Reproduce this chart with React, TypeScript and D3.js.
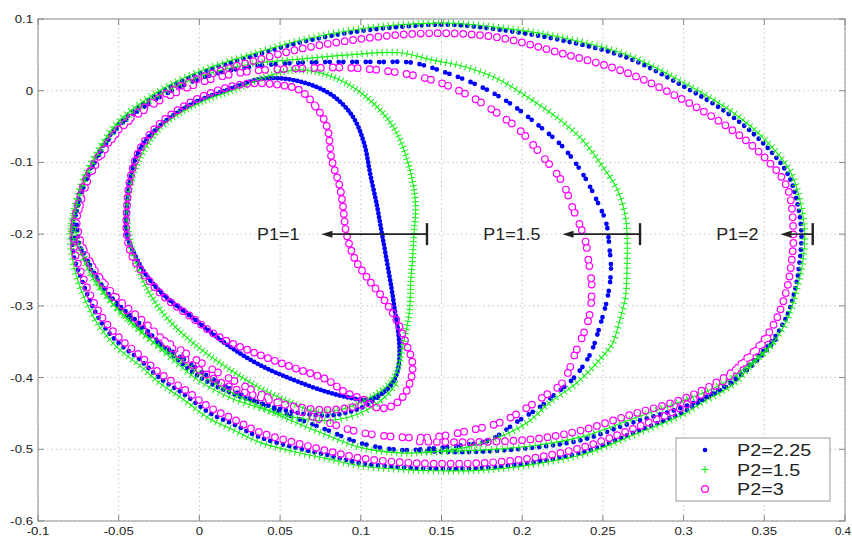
import React from 'react';
import * as d3 from 'd3';

type Pt = [number, number];

const W = 852, H = 537;
const X0 = 38, X1 = 845, Y0 = 19, Y1 = 521;

const xTicks = [-0.1, -0.05, 0, 0.05, 0.1, 0.15, 0.2, 0.25, 0.3, 0.35, 0.4];
const xTickLabels = ['-0.1', '-0.05', '0', '0.05', '0.1', '0.15', '0.2', '0.25', '0.3', '0.35', '0.4'];
const yTicks = [0.1, 0, -0.1, -0.2, -0.3, -0.4, -0.5, -0.6];
const yTickLabels = ['0.1', '0', '-0.1', '-0.2', '-0.3', '-0.4', '-0.5', '-0.6'];

const seriesNames = ['P2=2.25', 'P2=1.5', 'P2=3'];
const seriesColors = ['#0000ff', '#11ee11', '#ff00ff'];

// annotations: label, bar x, arrow tip x, y
const annLabels = ['P1=1', 'P1=1.5', 'P1=2'];
const annBarX = [0.141, 0.273, 0.380];
const annTipX = [0.0756, 0.225, 0.360];
const annY = -0.2;

// ---------- P2 = 2.25 (blue) ----------
const blueP1_2: Pt[] = [[-0.079,-0.198],[-0.076,-0.159],[-0.071,-0.124],[-0.062,-0.085],[-0.050,-0.047],[-0.034,-0.017],[-0.016,0.008],[0.006,0.029],[0.031,0.047],[0.062,0.067],[0.093,0.081],[0.124,0.089],[0.155,0.092],[0.186,0.085],[0.223,0.071],[0.265,0.046],[0.300,0.006],[0.327,-0.031],[0.347,-0.068],[0.364,-0.114],[0.370,-0.152],[0.373,-0.198],[0.372,-0.236],[0.369,-0.278],[0.363,-0.319],[0.353,-0.354],[0.341,-0.382],[0.331,-0.406],[0.310,-0.434],[0.300,-0.448],[0.269,-0.477],[0.238,-0.504],[0.207,-0.518],[0.176,-0.526],[0.145,-0.527],[0.124,-0.525],[0.099,-0.519],[0.079,-0.508],[0.058,-0.497],[0.037,-0.483],[0.022,-0.466],[0.006,-0.449],[-0.009,-0.424],[-0.025,-0.400],[-0.037,-0.375],[-0.050,-0.352],[-0.060,-0.326],[-0.068,-0.292],[-0.074,-0.257],[-0.078,-0.229]];
const blueP1_15: Pt[] = [[-0.078,-0.201],[-0.075,-0.159],[-0.070,-0.124],[-0.061,-0.085],[-0.050,-0.050],[-0.034,-0.022],[-0.016,0.001],[0.006,0.021],[0.031,0.033],[0.062,0.039],[0.087,0.040],[0.110,0.040],[0.132,0.039],[0.153,0.025],[0.174,0.006],[0.192,-0.017],[0.211,-0.050],[0.225,-0.078],[0.237,-0.114],[0.246,-0.152],[0.252,-0.184],[0.254,-0.218],[0.255,-0.250],[0.253,-0.287],[0.248,-0.329],[0.242,-0.368],[0.231,-0.403],[0.220,-0.424],[0.211,-0.441],[0.196,-0.463],[0.180,-0.487],[0.161,-0.495],[0.143,-0.499],[0.124,-0.501],[0.099,-0.491],[0.079,-0.473],[0.056,-0.453],[0.029,-0.427],[0.006,-0.399],[-0.012,-0.371],[-0.028,-0.347],[-0.039,-0.326],[-0.053,-0.294],[-0.064,-0.259],[-0.071,-0.229]];
const blueP1_1: Pt[] = [[-0.045,-0.166],[-0.045,-0.201],[-0.040,-0.229],[-0.033,-0.257],[-0.022,-0.285],[-0.004,-0.317],[0.017,-0.354],[0.037,-0.382],[0.058,-0.403],[0.079,-0.420],[0.093,-0.428],[0.104,-0.431],[0.114,-0.421],[0.120,-0.406],[0.123,-0.389],[0.124,-0.361],[0.123,-0.333],[0.121,-0.305],[0.119,-0.275],[0.116,-0.236],[0.113,-0.198],[0.110,-0.160],[0.106,-0.118],[0.102,-0.073],[0.095,-0.036],[0.082,-0.006],[0.062,0.013],[0.040,0.017],[0.017,0.001],[-0.006,-0.020],[-0.025,-0.050],[-0.037,-0.082],[-0.043,-0.124]];
const blueTransient: Pt[] = [[-0.076,-0.187],[-0.074,-0.218],[-0.066,-0.254],[-0.053,-0.292],[-0.035,-0.329],[-0.019,-0.364],[0.000,-0.399],[0.019,-0.421],[0.037,-0.435],[0.058,-0.448],[0.079,-0.453],[0.093,-0.448],[0.104,-0.438],[0.116,-0.417],[0.122,-0.399]];
const blueBottom2: Pt[] = [[0.357,-0.347],[0.341,-0.386],[0.322,-0.417],[0.300,-0.441],[0.268,-0.463],[0.237,-0.487],[0.206,-0.498],[0.165,-0.504],[0.136,-0.502]];

// ---------- P2 = 1.5 (green) ----------
const greenP1_2: Pt[] = [[-0.080,-0.198],[-0.077,-0.159],[-0.072,-0.124],[-0.063,-0.084],[-0.051,-0.045],[-0.035,-0.015],[-0.016,0.011],[0.006,0.032],[0.031,0.050],[0.062,0.070],[0.093,0.084],[0.124,0.092],[0.155,0.094],[0.186,0.088],[0.223,0.075],[0.265,0.050],[0.301,0.010],[0.329,-0.028],[0.349,-0.065],[0.366,-0.112],[0.372,-0.152],[0.375,-0.198],[0.374,-0.236],[0.370,-0.278],[0.364,-0.320],[0.354,-0.356],[0.341,-0.385],[0.331,-0.409],[0.310,-0.437],[0.300,-0.451],[0.269,-0.480],[0.238,-0.507],[0.207,-0.521],[0.176,-0.529],[0.145,-0.530],[0.124,-0.528],[0.099,-0.523],[0.079,-0.513],[0.058,-0.503],[0.037,-0.490],[0.022,-0.474],[0.006,-0.457],[-0.009,-0.432],[-0.025,-0.407],[-0.037,-0.383],[-0.050,-0.360],[-0.061,-0.332],[-0.070,-0.296],[-0.076,-0.260],[-0.079,-0.230]];
const greenP1_15: Pt[] = [[-0.079,-0.201],[-0.076,-0.159],[-0.071,-0.124],[-0.062,-0.085],[-0.051,-0.050],[-0.035,-0.020],[-0.016,0.004],[0.006,0.024],[0.031,0.037],[0.062,0.044],[0.093,0.050],[0.124,0.053],[0.144,0.043],[0.165,0.033],[0.186,0.015],[0.206,-0.013],[0.223,-0.040],[0.237,-0.068],[0.248,-0.100],[0.259,-0.138],[0.264,-0.176],[0.265,-0.204],[0.265,-0.240],[0.264,-0.287],[0.260,-0.324],[0.256,-0.352],[0.248,-0.375],[0.234,-0.407],[0.217,-0.435],[0.203,-0.463],[0.186,-0.483],[0.166,-0.497],[0.143,-0.504],[0.124,-0.505],[0.099,-0.497],[0.079,-0.480],[0.056,-0.459],[0.029,-0.431],[0.006,-0.403],[-0.012,-0.375],[-0.028,-0.352],[-0.039,-0.331],[-0.053,-0.299],[-0.064,-0.264],[-0.071,-0.233]];
const greenP1_1: Pt[] = [[-0.045,-0.173],[-0.042,-0.124],[-0.034,-0.082],[-0.022,-0.047],[0.000,-0.017],[0.025,0.004],[0.043,0.021],[0.062,0.029],[0.084,0.018],[0.103,-0.008],[0.120,-0.050],[0.130,-0.106],[0.134,-0.162],[0.133,-0.198],[0.132,-0.236],[0.131,-0.264],[0.130,-0.310],[0.126,-0.357],[0.122,-0.393],[0.115,-0.414],[0.093,-0.441],[0.073,-0.448],[0.056,-0.434],[0.037,-0.414],[0.019,-0.389],[0.000,-0.359],[-0.019,-0.320],[-0.031,-0.282],[-0.039,-0.243],[-0.043,-0.208]];
const greenTransient: Pt[] = [[-0.077,-0.190],[-0.074,-0.222],[-0.067,-0.258],[-0.054,-0.297],[-0.036,-0.335],[-0.019,-0.370],[0.000,-0.405],[0.019,-0.428],[0.037,-0.442],[0.058,-0.455],[0.079,-0.460],[0.093,-0.455],[0.104,-0.445],[0.116,-0.425],[0.123,-0.405]];
const greenBottom2: Pt[] = [[0.356,-0.350],[0.342,-0.380],[0.323,-0.410],[0.300,-0.432],[0.269,-0.457],[0.238,-0.482],[0.207,-0.495],[0.166,-0.502],[0.140,-0.503]];

// ---------- P2 = 3 (magenta) ----------
const magP1_2: Pt[] = [[-0.078,-0.195],[-0.075,-0.157],[-0.070,-0.122],[-0.060,-0.084],[-0.048,-0.049],[-0.032,-0.020],[-0.014,0.004],[0.008,0.024],[0.033,0.041],[0.062,0.058],[0.093,0.070],[0.124,0.078],[0.155,0.080],[0.186,0.074],[0.223,0.053],[0.265,0.025],[0.300,-0.013],[0.327,-0.050],[0.347,-0.086],[0.364,-0.134],[0.368,-0.198],[0.367,-0.236],[0.364,-0.276],[0.358,-0.316],[0.349,-0.350],[0.337,-0.378],[0.327,-0.401],[0.308,-0.428],[0.298,-0.443],[0.268,-0.472],[0.238,-0.497],[0.207,-0.512],[0.176,-0.519],[0.145,-0.520],[0.124,-0.518],[0.099,-0.512],[0.079,-0.502],[0.058,-0.490],[0.037,-0.476],[0.022,-0.459],[0.006,-0.441],[-0.009,-0.417],[-0.025,-0.393],[-0.037,-0.369],[-0.049,-0.346],[-0.059,-0.320],[-0.067,-0.288],[-0.073,-0.255],[-0.077,-0.227]];
const magP1_15: Pt[] = [[-0.077,-0.200],[-0.074,-0.160],[-0.069,-0.124],[-0.060,-0.087],[-0.049,-0.053],[-0.033,-0.025],[-0.015,-0.003],[0.007,0.016],[0.031,0.027],[0.062,0.031],[0.093,0.032],[0.124,0.025],[0.144,0.015],[0.155,0.006],[0.172,-0.013],[0.190,-0.040],[0.198,-0.054],[0.211,-0.087],[0.225,-0.128],[0.231,-0.162],[0.239,-0.208],[0.241,-0.236],[0.243,-0.268],[0.243,-0.287],[0.242,-0.310],[0.239,-0.333],[0.233,-0.365],[0.225,-0.407],[0.213,-0.427],[0.198,-0.449],[0.186,-0.463],[0.169,-0.473],[0.145,-0.483],[0.124,-0.483],[0.099,-0.476],[0.079,-0.462],[0.056,-0.441],[0.029,-0.413],[0.006,-0.386],[-0.012,-0.361],[-0.028,-0.340],[-0.039,-0.319],[-0.053,-0.287],[-0.064,-0.254],[-0.071,-0.225]];
const magP1_1: Pt[] = [[0.062,0.001],[0.072,-0.022],[0.079,-0.050],[0.082,-0.096],[0.087,-0.134],[0.089,-0.162],[0.091,-0.198],[0.096,-0.233],[0.105,-0.264],[0.113,-0.287],[0.122,-0.319],[0.128,-0.352],[0.132,-0.379],[0.131,-0.403],[0.126,-0.427],[0.118,-0.441],[0.110,-0.442],[0.102,-0.431],[0.090,-0.420],[0.079,-0.403],[0.058,-0.386],[0.037,-0.368],[0.012,-0.343],[-0.006,-0.314],[-0.022,-0.287],[-0.034,-0.257],[-0.042,-0.229],[-0.045,-0.201],[-0.045,-0.166],[-0.043,-0.124],[-0.037,-0.082],[-0.025,-0.047],[-0.006,-0.017],[0.012,0.001],[0.031,0.010],[0.050,0.008]];
const magTransient: Pt[] = [[-0.076,-0.185],[-0.073,-0.215],[-0.065,-0.250],[-0.052,-0.287],[-0.034,-0.323],[-0.018,-0.357],[0.001,-0.391],[0.019,-0.413],[0.037,-0.427],[0.058,-0.440],[0.079,-0.445],[0.093,-0.442],[0.104,-0.436]];
const magBottom2: Pt[] = [[0.352,-0.345],[0.337,-0.380],[0.318,-0.410],[0.297,-0.432],[0.267,-0.452],[0.236,-0.474],[0.206,-0.486],[0.165,-0.490],[0.135,-0.489]];

const closedLoops: Pt[][][] = [
  [blueP1_2, blueP1_15, blueP1_1],
  [greenP1_2, greenP1_15, greenP1_1],
  [magP1_2, magP1_15, magP1_1],
];
const openPaths: Pt[][][] = [
  [blueTransient, blueBottom2],
  [greenTransient, greenBottom2],
  [magTransient, magBottom2],
];

// marker spacing patterns (style), order: P1=2, P1=1.5, P1=1, transient, second bottom pass
const blueDash = ['0 6.5', '0 4.5 0 9', '0 4', '0 6', '0 7'];
const greenDash = ['1 4', '1 4', '1 3', '1 4.5', '1 4.5'];
const magDash = ['0 8.5', '0 6.5 0 12', '0 7.5', '0 8.5', '0 8.5'];

const FONT = '"Liberation Sans", Arial, Helvetica, sans-serif';

function SText(props: { x: number; y: number; size: number; anchor: string; sx?: number; fill?: string; children: React.ReactNode }) {
  const { x, y, size, anchor, sx = 1.2, fill = '#222' } = props;
  return (
    <text transform={`translate(${x},${y}) scale(${sx},1)`} fontSize={size} fontFamily={FONT} textAnchor={anchor as any} fill={fill}>
      {props.children}
    </text>
  );
}

export default function App() {
  const x = d3.scaleLinear().domain([-0.1, 0.4]).range([X0, X1]);
  const y = d3.scaleLinear().domain([-0.6, 0.1]).range([Y1, Y0]);
  const closedLine = d3.line<Pt>().x(d => x(d[0])).y(d => y(d[1])).curve(d3.curveCatmullRomClosed.alpha(0.5));
  const openLine = d3.line<Pt>().x(d => x(d[0])).y(d => y(d[1])).curve(d3.curveCatmullRom.alpha(0.5));

  const pathsFor = (i: number) => [
    ...closedLoops[i].map(p => closedLine(p) as string),
    ...openPaths[i].map(p => openLine(p) as string),
  ];

  const blue = pathsFor(0);
  const green = pathsFor(1);
  const mag = pathsFor(2);

  return (
    <svg width={W} height={H} style={{ position: 'absolute', left: 0, top: 0, background: '#fff' }}>
      <defs>
        <clipPath id="plot"><rect x={X0} y={Y0} width={X1 - X0} height={Y1 - Y0} /></clipPath>
        <mask id="ringMask" maskUnits="userSpaceOnUse" x={0} y={0} width={W} height={H}>
          <rect x={0} y={0} width={W} height={H} fill="#fff" />
          {mag.map((d, k) => (
            <path key={k} d={d} fill="none" stroke="#000" strokeWidth={5.4} strokeLinecap="round" strokeDasharray={magDash[k]} />
          ))}
        </mask>
      </defs>
      <rect x={0} y={0} width={W} height={H} fill="#fff" />
      {/* grid */}
      {xTicks.map((t, k) => (
        <line key={'gx' + k} x1={x(t)} x2={x(t)} y1={Y0} y2={Y1} stroke="#c4c4c4" strokeWidth={1} strokeDasharray="1.5 3" />
      ))}
      {yTicks.map((t, k) => (
        <line key={'gy' + k} x1={X0} x2={X1} y1={y(t)} y2={y(t)} stroke="#c4c4c4" strokeWidth={1} strokeDasharray="1.5 3" />
      ))}
      <g clipPath="url(#plot)">
        {/* blue dots */}
        {blue.map((d, k) => (
          <path key={'b' + k} d={d} fill="none" stroke={seriesColors[0]} strokeWidth={4.8} strokeLinecap="round" strokeDasharray={blueDash[k]} />
        ))}
        {/* green plus */}
        {green.map((d, k) => (
          <g key={'g' + k}>
            <path d={d} fill="none" stroke={seriesColors[1]} strokeWidth={1.1} />
            <path d={d} fill="none" stroke={seriesColors[1]} strokeWidth={7} strokeDasharray={greenDash[k]} />
          </g>
        ))}
        {/* magenta circles */}
        <g mask="url(#ringMask)">
          {mag.map((d, k) => (
            <path key={'m' + k} d={d} fill="none" stroke={seriesColors[2]} strokeWidth={7.8} strokeLinecap="round" strokeDasharray={magDash[k]} />
          ))}
        </g>
      </g>
      {/* annotations */}
      {annLabels.map((lab, k) => {
        const yy = y(annY);
        const xb = x(annBarX[k]);
        const xt = x(annTipX[k]);
        return (
          <g key={'a' + k}>
            <line x1={xb} x2={xt + 8} y1={yy} y2={yy} stroke="#222" strokeWidth={1.6} />
            <path d={`M${xt},${yy} L${xt + 11},${yy - 3.5} L${xt + 11},${yy + 3.5} Z`} fill="#222" />
            <line x1={xb} x2={xb} y1={yy - 11} y2={yy + 11} stroke="#222" strokeWidth={2.4} />
            <SText x={xt - 22} y={yy + 6} size={16} anchor="end" sx={1.12}>{lab}</SText>
          </g>
        );
      })}
      {/* frame */}
      <rect x={X0} y={Y0} width={X1 - X0} height={Y1 - Y0} fill="none" stroke="#a0a0a0" strokeWidth={1.2} />
      {xTicks.map((t, k) => {
        const last = k === xTicks.length - 1;
        return (
          <g key={'tx' + k}>
            <line x1={x(t)} x2={x(t)} y1={Y1} y2={Y1 - 6} stroke="#888" />
            <line x1={x(t)} x2={x(t)} y1={Y0} y2={Y0 + 6} stroke="#888" />
            <SText x={last ? 851 : x(t)} y={535} size={11} anchor={last ? 'end' : 'middle'} sx={last ? 1.05 : 1.2}>{xTickLabels[k]}</SText>
          </g>
        );
      })}
      {yTicks.map((t, k) => (
        <g key={'ty' + k}>
          <line x1={X0} x2={X0 + 6} y1={y(t)} y2={y(t)} stroke="#888" />
          <line x1={X1} x2={X1 - 6} y1={y(t)} y2={y(t)} stroke="#888" />
          <SText x={33} y={y(t) + 4} size={11} anchor="end">{yTickLabels[k]}</SText>
        </g>
      ))}
      {/* legend */}
      <g>
        <rect x={676} y={438} width={154} height={63} fill="#fff" stroke="#999" strokeWidth={1} />
        {seriesNames.map((n, k) => {
          const cy = 450 + k * 19.5;
          return (
            <g key={'l' + k}>
              {k === 0 && <circle cx={705} cy={cy} r={2.3} fill={seriesColors[0]} />}
              {k === 1 && (
                <g stroke={seriesColors[1]} strokeWidth={1.1}>
                  <line x1={701.5} x2={708.5} y1={cy} y2={cy} />
                  <line x1={705} x2={705} y1={cy - 3.5} y2={cy + 3.5} />
                </g>
              )}
              {k === 2 && <circle cx={705} cy={cy} r={3.4} fill="none" stroke={seriesColors[2]} strokeWidth={1.2} />}
              <SText x={737} y={cy + 6} size={16.5} anchor="start" sx={1.2}>{n}</SText>
            </g>
          );
        })}
      </g>
    </svg>
  );
}
